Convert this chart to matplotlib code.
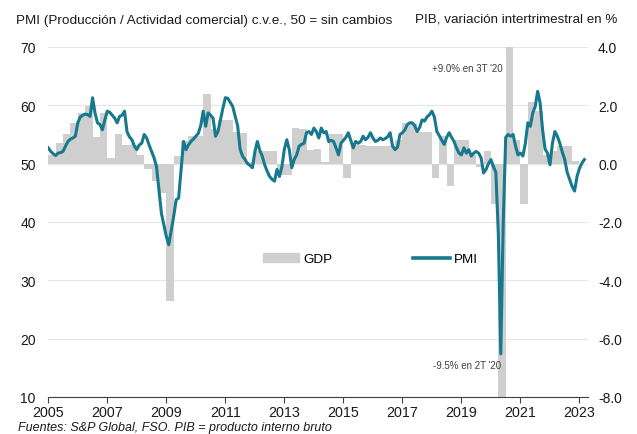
import numpy as np
import matplotlib
matplotlib.use("Agg")
import matplotlib.pyplot as plt
from matplotlib.patches import Patch
from matplotlib.lines import Line2D

plt.rcParams['font.family'] = ['Liberation Sans', 'DejaVu Sans']
plt.rcParams['axes.unicode_minus'] = False

# PMI (producción / actividad comercial), mensual desde ene-2005
pmi_2005 = [52.7, 52.1, 51.7, 51.4, 51.8, 51.9, 52.1, 53.0, 53.8, 54.2, 54.4, 54.7]
pmi_2006 = [57.0, 58.0, 58.3, 58.5, 58.4, 58.1, 61.3, 58.7, 57.0, 56.7, 55.8, 57.5]
pmi_2007 = [59.0, 58.8, 58.3, 57.8, 57.0, 58.1, 58.3, 59.0, 55.5, 54.6, 54.1, 53.0]
pmi_2008 = [52.4, 53.2, 53.5, 55.0, 54.4, 53.2, 52.1, 51.0, 49.5, 45.5, 41.5, 39.5]
pmi_2009 = [37.5, 36.1, 38.5, 41.0, 43.8, 44.1, 49.0, 53.8, 52.4, 53.2, 53.8, 54.2]
pmi_2010 = [54.7, 55.2, 56.5, 59.0, 56.4, 58.7, 58.3, 57.8, 54.7, 55.5, 57.5, 59.5]
pmi_2011 = [61.3, 61.2, 60.5, 59.8, 58.1, 56.5, 52.5, 51.3, 50.7, 50.0, 49.7, 49.3]
pmi_2012 = [52.0, 53.8, 52.3, 51.3, 49.8, 48.7, 47.8, 47.3, 47.0, 49.0, 47.8, 49.5]
pmi_2013 = [52.5, 54.1, 52.4, 49.3, 50.7, 51.5, 53.0, 53.3, 53.5, 55.3, 55.5, 55.0]
pmi_2014 = [56.1, 55.5, 54.4, 56.1, 55.3, 55.5, 53.8, 54.0, 53.8, 52.7, 51.5, 53.5]
pmi_2015 = [54.0, 54.5, 55.3, 54.0, 52.7, 53.8, 53.5, 53.8, 54.7, 54.1, 54.5, 55.3]
pmi_2016 = [54.4, 53.8, 54.0, 54.4, 54.1, 54.3, 54.6, 55.3, 53.0, 52.4, 52.8, 55.0]
pmi_2017 = [55.3, 55.8, 56.7, 57.0, 57.0, 56.5, 55.5, 56.2, 57.5, 57.3, 58.0, 58.4]
pmi_2018 = [59.0, 58.0, 55.5, 54.8, 54.0, 53.3, 54.5, 55.3, 54.5, 53.8, 52.7, 51.8]
pmi_2019 = [51.5, 52.7, 51.8, 52.4, 51.3, 51.8, 52.1, 51.8, 51.0, 48.4, 49.0, 50.0]
pmi_2020 = [50.7, 49.5, 48.5, 38.0, 17.4, 40.0, 54.5, 55.0, 54.7, 55.0, 53.0, 51.5]
pmi_2021 = [51.8, 51.3, 53.5, 57.0, 56.4, 58.7, 59.8, 62.4, 60.4, 55.8, 52.5, 51.8]
pmi_2022 = [49.8, 53.5, 55.5, 54.7, 53.5, 52.0, 50.7, 48.5, 47.3, 46.1, 45.3, 47.8]
pmi_2023 = [49.2, 50.1, 50.7]

# PIB, variación intertrimestral en %, trimestral desde 1T 2005
gdp_2005 = [0.3, 0.71, 1.0, 1.4]
gdp_2006 = [1.75, 1.96, 0.92, 1.74]
gdp_2007 = [0.2, 1.0, 0.65, 0.65]
gdp_2008 = [0.3, -0.2, -0.6, -1.0]
gdp_2009 = [-4.7, 0.27, 0.76, 0.94]
gdp_2010 = [0.94, 2.4, 1.2, 1.5]
gdp_2011 = [1.5, 1.1, 1.05, 0.05]
gdp_2012 = [0.42, 0.42, 0.42, -0.38]
gdp_2013 = [-0.38, 1.23, 1.2, 0.48]
gdp_2014 = [0.5, 0.05, 1.0, 1.0]
gdp_2015 = [-0.48, 0.65, 0.65, 0.6]
gdp_2016 = [0.6, 0.6, 0.6, 0.8]
gdp_2017 = [1.4, 1.4, 1.1, 1.1]
gdp_2018 = [-0.48, 0.94, -0.75, 0.82]
gdp_2019 = [0.82, 0.3, -0.1, 0.42]
gdp_2020 = [-1.4, -9.5, 9.0, 0.82]
gdp_2021 = [-1.4, 2.1, 1.8, 0.3]
gdp_2022 = [0.45, 0.6, 0.6, 0.1]

pmi = (pmi_2005 + pmi_2006 + pmi_2007 + pmi_2008 + pmi_2009 + pmi_2010 + pmi_2011
       + pmi_2012 + pmi_2013 + pmi_2014 + pmi_2015 + pmi_2016 + pmi_2017 + pmi_2018
       + pmi_2019 + pmi_2020 + pmi_2021 + pmi_2022 + pmi_2023)
gdp = (gdp_2005 + gdp_2006 + gdp_2007 + gdp_2008 + gdp_2009 + gdp_2010 + gdp_2011
       + gdp_2012 + gdp_2013 + gdp_2014 + gdp_2015 + gdp_2016 + gdp_2017 + gdp_2018
       + gdp_2019 + gdp_2020 + gdp_2021 + gdp_2022)

pmi_x = 2005 + np.arange(len(pmi)) / 12
gdp_x = 2005 + np.arange(len(gdp)) / 4

teal = '#17798e'
grey = '#cfcfcf'
txt = '#1a1a1a'

fig = plt.figure(figsize=(6.37, 4.35), dpi=100)
ax = fig.add_axes([0.0758, 0.0851, 0.8478, 0.8046])
ax2 = ax.twinx()

# barras PIB (eje derecho) y rejilla detrás
ax2.set_axisbelow(True)
ax2.grid(axis='y', color='#e6e6e6', linewidth=0.8)
ax2.bar(gdp_x, gdp, width=0.25, align='edge', color=grey, linewidth=0)
ax2.set_ylim(-8, 4)
ax2.set_yticks(np.arange(-8, 4.1, 2))
ax2.set_yticklabels([f"{v:.1f}" for v in np.arange(-8, 4.1, 2)])
ax2.tick_params(axis='y', length=0, pad=7, labelsize=10, labelcolor=txt)

# PMI encima
ax.set_zorder(ax2.get_zorder() + 1)
ax.patch.set_visible(False)
ax.plot(pmi_x, pmi, color=teal, linewidth=2.2, solid_joinstyle='round')
ax.set_ylim(10, 70)
ax.set_yticks(range(10, 71, 10))
ax.set_xlim(2005, 2023.3)
ax.set_xticks(range(2005, 2024, 2))
ax.tick_params(axis='y', length=0, pad=9, labelsize=10, labelcolor=txt)
ax.tick_params(axis='x', length=4, color='#404040', pad=2, labelsize=10.3, labelcolor=txt)

for a in (ax, ax2):
    for s in ('top', 'left', 'right'):
        a.spines[s].set_visible(False)
ax2.spines['bottom'].set_visible(False)
ax.spines['bottom'].set_color('#404040')

# anotaciones
ax2.text(2019.2, 3.28, "+9.0% en 3T '20", ha='center', va='center', fontsize=7, color='#404040')
ax2.text(2020.33, -6.92, "-9.5% en 2T '20", ha='right', va='center', fontsize=7, color='#404040')

# leyenda
handles = [Patch(color=grey), Line2D([], [], color=teal, linewidth=2.6)]
ax.legend(handles, ['GDP', 'PMI'], loc='center left', bbox_to_anchor=(0.3976, 0.394),
          ncol=2, frameon=False, fontsize=9.7, handlelength=2.7, handleheight=0.7,
          handletextpad=0.3, columnspacing=6, borderpad=0, borderaxespad=0)

fig.text(16 / 637, 1 - 21 / 435, "PMI (Producción / Actividad comercial) c.v.e., 50 = sin cambios",
         ha='left', va='center', fontsize=9.7, color=txt)
fig.text(617 / 637, 1 - 20 / 435, "PIB, variación intertrimestral en %",
         ha='right', va='center', fontsize=9.6, color=txt)
fig.text(18 / 637, 1 - 428 / 435, "Fuentes: S&P Global, FSO. PIB = producto interno bruto",
         ha='left', va='center', fontsize=9.0, style='italic', color=txt)

fig.savefig('out.png', dpi=100)
